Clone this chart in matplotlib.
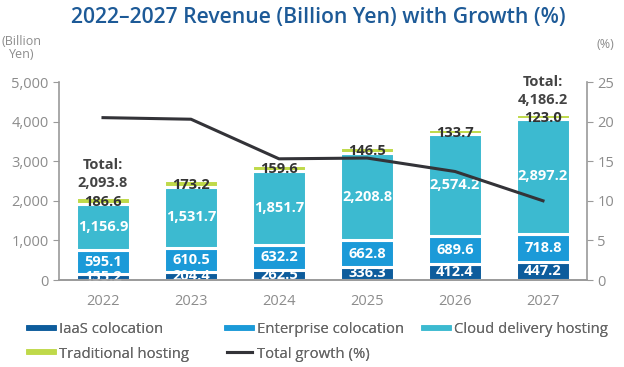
import matplotlib.pyplot as plt
import numpy as np
from matplotlib.lines import Line2D

plt.rcParams['font.family'] = ['Open Sans', 'DejaVu Sans']

years = ['2022', '2023', '2024', '2025', '2026', '2027']
iaas = [155.2, 204.4, 262.5, 336.3, 412.4, 447.2]
enterprise = [595.1, 610.5, 632.2, 662.8, 689.6, 718.8]
cloud = [1156.9, 1531.7, 1851.7, 2208.8, 2574.2, 2897.2]
traditional = [186.6, 173.2, 159.6, 146.5, 133.7, 123.0]
growth = [20.5, 20.3, 15.3, 15.4, 13.7, 10.0]
totals = {0: 2093.8, 5: 4186.2}

c_iaas = '#0d5c9c'
c_ent = '#1b9ad8'
c_cloud = '#3cbad0'
c_trad = '#bfd94a'
c_line = '#333338'
grey = '#8c8c8c'

fig = plt.figure(figsize=(6.24, 3.67), dpi=100)
ax = fig.add_axes([59/624, 1-280/367, (587-59)/624, (280-82)/367])
ax2 = ax.twinx()

x = np.arange(len(years))
w = 0.62
series = [(iaas, c_iaas), (enterprise, c_ent), (cloud, c_cloud), (traditional, c_trad)]
bottom = np.zeros(len(years))
for k, (vals, col) in enumerate(series):
    bars = ax.bar(x, vals, w, bottom=bottom, color=col, edgecolor='white', linewidth=2.2, zorder=2)
    for i, b in enumerate(bars):
        v = vals[i]
        if k < 3:
            t = ax.text(x[i], bottom[i] + v/2, f'{v:,.1f}', ha='center', va='center',
                        color='white', fontsize=10.5, fontweight='bold', zorder=3)
            if k == 0:
                # small segments: label gets clipped by the bar like in the original
                t.set_clip_path(b)
        else:
            ax.text(x[i], bottom[i] + v/2 - 30, f'{v:,.1f}', ha='center', va='center',
                    color='#333333', fontsize=10.5, fontweight='bold', zorder=3)
    bottom += np.array(vals)

for i, tot in totals.items():
    ax.text(x[i], bottom[i] + 190, f'Total:\n{tot:,.1f}', ha='center', va='bottom',
            color='#444444', fontsize=10.5, fontweight='bold', linespacing=1.3, zorder=3)

ax2.plot(x, growth, color=c_line, lw=2.2, zorder=4)
ax.set_zorder(1)
ax2.set_zorder(2)
ax2.patch.set_visible(False)

ax.set_xlim(-0.5, 5.5)
ax.set_ylim(0, 5000)
ax2.set_ylim(0, 25)
ax.set_yticks(range(0, 5001, 1000))
ax.set_yticklabels([f'{v:,}' for v in range(0, 5001, 1000)])
ax2.set_yticks(range(0, 26, 5))
ax.set_xticks(x)
ax.set_xticklabels(years)

for a in (ax, ax2):
    a.spines['top'].set_visible(False)
    for s in ('left', 'right', 'bottom'):
        a.spines[s].set_color('#9a9a9a')
        a.spines[s].set_linewidth(1.2)
    a.tick_params(colors='#9a9a9a', labelcolor=grey, labelsize=10.5, length=4)
ax.tick_params(axis='x', length=0, pad=10)
ax.spines['right'].set_visible(False)
ax2.spines['left'].set_visible(False)

fig.text(318/624, 1-17/367, '2022\u20132027 Revenue (Billion Yen) with Growth (%)', ha='center', va='center',
         color='#1d5a97', fontsize=15.2, fontweight='semibold')
fig.text(22/624, 1-48/367, '(Billion\nYen)', ha='center', va='center', color=grey, fontsize=9,
         linespacing=1.0)
fig.text(605/624, 1-44/367, '(%)', ha='center', va='center', color=grey, fontsize=9)

# legend: three columns placed separately, like the reference
columns = [
    (23, [Line2D([], [], color=c_iaas, lw=4), Line2D([], [], color=c_trad, lw=4)],
     ['IaaS colocation', 'Traditional hosting']),
    (221, [Line2D([], [], color=c_ent, lw=4), Line2D([], [], color=c_line, lw=2.2)],
     ['Enterprise colocation', 'Total growth (%)']),
    (418, [Line2D([], [], color=c_cloud, lw=4)], ['Cloud delivery hosting']),
]
for xpos, hs, ls in columns:
    leg = fig.legend(hs, ls, loc='upper left', bbox_to_anchor=(xpos/624, 1-316/367),
                     frameon=False, fontsize=10.7, labelcolor='#666666', handlelength=1.7,
                     handletextpad=0.3, labelspacing=0.65, borderaxespad=0)
    fig.add_artist(leg)

fig.savefig('out.png', dpi=100)
